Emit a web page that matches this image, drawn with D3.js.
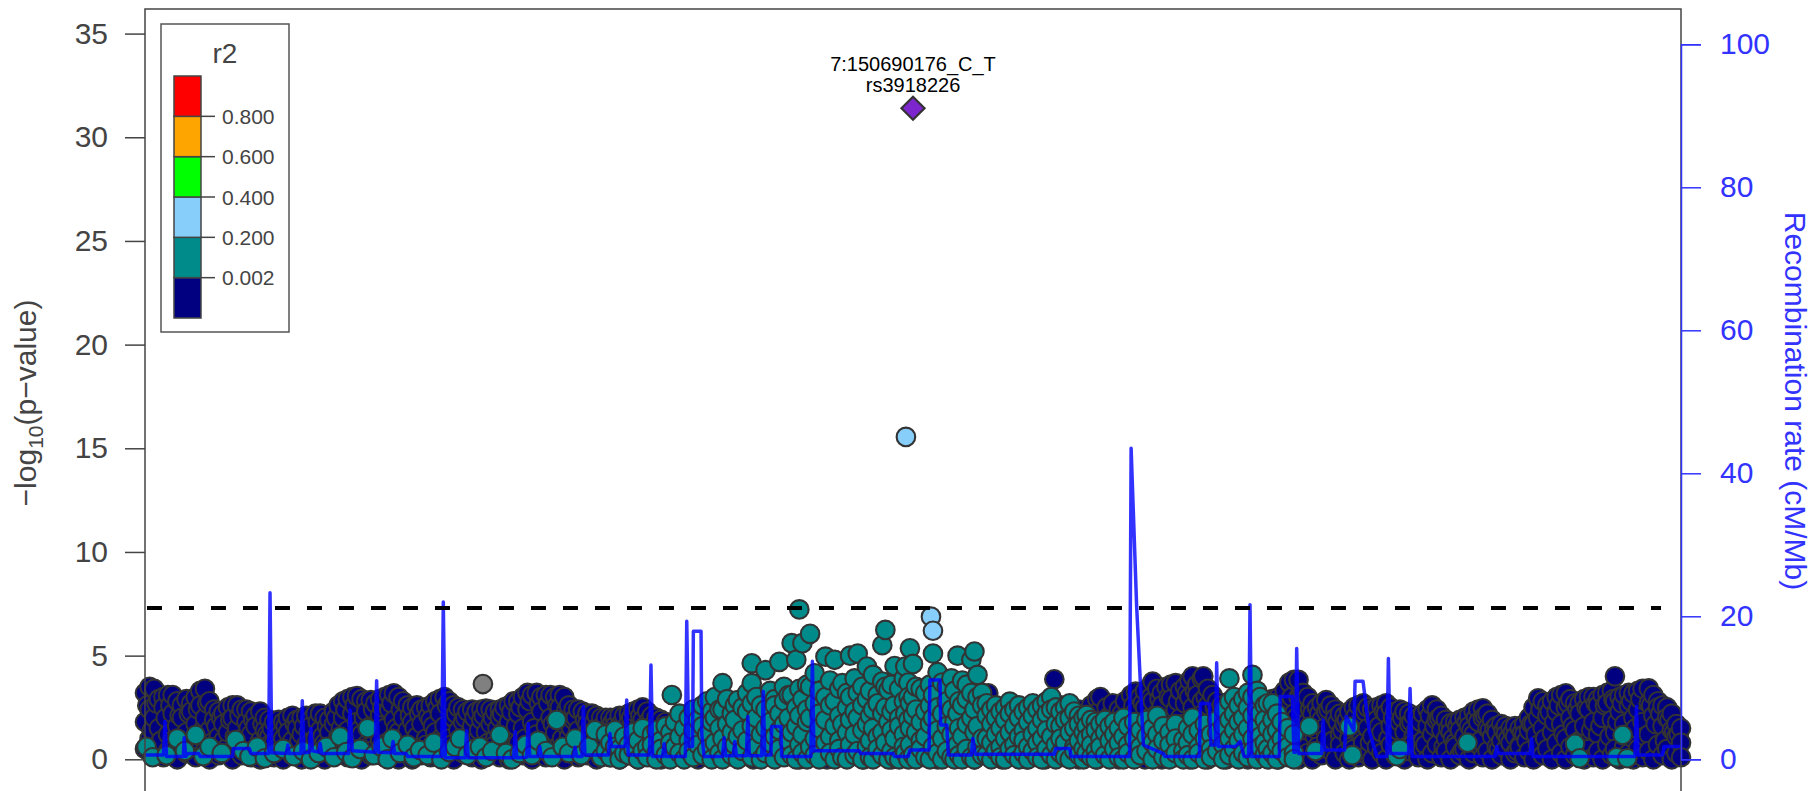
<!DOCTYPE html>
<html>
<head>
<meta charset="utf-8">
<script src="https://cdn.jsdelivr.net/npm/d3@7"></script>
<style>
  body { margin: 0; background: #fff; }
  svg { display: block; font-family: "Liberation Sans", Arial, sans-serif; }
</style>
</head>
<body>
<div class="plot"></div>
<script>
// Region: chr7, positions below are kb from regionStart
var regionStart = 150190176;
var regionKb = [0, 1000];

// Lead SNP
var leadSnp = { kb: 500, logp: 31.4, name: "7:150690176_C_T", rsid: "rs3918226" };

// lowest r2 bin (navy): [kb, -log10 p, -log10 p, ...]
var navyCols = [
  [0,3.2,1.8,0.5],[3,3.5,2.4,1.0],[6,3.4,2.0,0.2],[9,2.9,1.5,0.7],[12,3.0,2.5,0.1],[15,3.1,1.2,0.4],
  [18,3.1,2.2,0.9],[21,2.8,1.6,0.0],[24,2.6,2.0,0.6],[27,2.9,1.3,0.3],[30,2.7,2.3,0.8],[33,3.0,1.7,0.1],
  [36,3.3,2.6,1.1],[39,3.4,2.0,0.4],[42,2.8,1.4,0.0],[45,2.4,1.9,0.7],[48,2.3,1.1,0.2],[51,2.2,1.7,0.9],
  [54,2.5,1.3,0.3],[57,2.6,2.0,0.0],[60,2.6,1.5,0.6],[63,2.4,1.0,0.2],[66,2.4,1.8,0.8],[69,2.3,1.2,0.1],
  [72,2.1,1.6,0.5],[75,2.3,0.9,0.0],[78,2.0,1.4,0.4],[81,1.9,1.1,0.7],[84,1.8,0.8,0.1],[87,1.9,1.5,0.3],
  [90,1.8,1.0,0.0],[93,2.0,1.3,0.6],[96,2.1,0.9,0.2],[99,1.9,1.5,0.5],[102,2.0,1.2,0.0],[105,2.1,0.7,0.4],
  [108,1.9,1.6,0.8],[111,2.2,1.0,0.1],[114,2.2,1.4,0.5],[117,2.0,0.8,0.0],[120,1.9,1.3,0.6],[123,2.3,1.7,0.2],
  [126,2.6,1.1,0.4],[129,2.8,2.0,0.9],[132,2.9,1.4,0.1],[135,3.0,2.2,0.6],[138,3.05,1.8,0.3],[141,2.9,1.2,0.0],
  [144,2.8,2.3,0.7],[147,2.86,1.6,0.2],[150,2.7,1.0,0.5],[153,2.9,2.1,0.9],[156,3.0,1.5,0.1],[159,3.1,2.4,0.4],
  [162,3.18,1.9,0.8],[165,3.0,1.3,0.0],[168,2.8,2.0,0.6],[171,2.6,1.4,0.3],[174,2.5,1.8,0.0],[177,2.6,1.1,0.5],
  [180,2.4,1.7,0.2],[183,2.5,1.0,0.7],[186,2.6,1.9,0.1],[189,2.8,1.3,0.4],[192,2.9,2.2,0.9],[195,3.0,1.6,0.2],
  [198,2.8,1.0,0.5],[201,2.6,2.0,0.0],[204,2.5,1.4,0.6],[207,2.4,1.8,0.3],[210,2.3,1.1,0.8],[213,2.4,1.6,0.1],
  [216,2.3,0.9,0.4],[219,2.4,1.9,0.0],[222,2.45,1.3,0.6],[225,2.4,1.7,0.2],[228,2.3,1.0,0.7],[231,2.4,2.0,0.1],
  [234,2.5,1.4,0.4],[237,2.6,1.8,0.0],[240,2.8,1.2,0.5],[243,2.8,2.2,0.8],[246,3.0,1.5,0.2],[249,3.2,2.4,0.6],
  [252,3.1,1.8,0.0],[255,3.2,1.2,0.4],[258,3.0,2.3,0.9],[261,3.1,1.6,0.1],[264,3.1,2.0,0.5],[267,3.0,1.3,0.2],
  [270,3.1,2.5,0.7],[273,3.0,1.7,0.0],[276,2.6,1.1,0.4],[279,2.4,1.9,0.8],[282,2.4,1.4,0.1],[285,2.3,0.9,0.5],
  [288,2.2,1.7,0.2],[291,2.2,1.2,0.6],[294,2.1,1.5,0.0],[297,2.0,0.8,0.3],[300,2.0,1.4,0.7],[303,2.0,1.1,0.1],
  [306,2.0,1.6,0.4],[309,2.1,0.9,0.0],[312,2.1,1.3,0.6],[315,2.2,1.8,0.2],[318,2.3,1.0,0.5],[321,2.4,1.5,0.0],
  [324,2.5,1.9,0.3],[327,2.3,1.2,0.8],[330,2.1,1.6,0.1],[333,2.0,0.9,0.4],[336,1.9,1.4,0.0],[339,1.8,1.1,0.6],
  [342,1.5,0.6],[348,2.0,0.2],[354,1.2,0.8],[360,1.8,0.0],[366,1.0,0.5],[372,1.6,0.3],[378,2.0,0.9],
  [384,1.3,0.1],[390,1.7,0.6],[396,1.1,0.0],[402,1.5,0.4],[408,2.2,0.8],[414,1.0,0.2],[420,1.8,0.5],
  [426,1.3,0.0],[432,1.6,0.7],[438,1.1,0.3],[444,2.0,0.0],[450,1.4,0.6],[456,1.9,0.2],[462,2.86,1.2,0.5],
  [468,1.6,0.0],[474,2.1,0.8],[480,1.3,0.3],[486,2.3,1.0,0.0],[492,1.7,0.6],[498,2.0,0.2],[504,1.4,0.9],
  [510,2.2,0.4],[516,1.8,0.0],[522,2.4,1.1,0.6],[528,2.0,0.2],[534,2.6,1.5,0.8],[540,2.9,1.2,0.0],
  [546,3.0,1.8,0.4],[549,3.18,2.2,0.7],[552,2.2,1.0,0.3],[555,1.8,0.6],[558,2.4,1.3,0.0],[562,1.5,0.5],
  [566,2.0,0.9,0.2],[570,1.7,0.4],[574,2.3,1.1,0.0],[578,1.6,0.7],[582,2.1,1.0,0.3],[586,2.5,1.4,0.0],
  [590,2.8,1.8,0.6],[592,3.86,2.2,0.2],[596,2.6,1.2,0.8],[600,2.3,1.5,0.1],[604,2.0,0.9,0.5],[608,2.4,1.3,0.0],
  [612,2.2,1.7,0.6],[616,2.6,1.0,0.3],[620,2.9,1.9,0.0],[622,3.0,1.4,0.7],[626,2.5,1.1,0.2],[630,2.7,1.8,0.5],
  [634,2.4,1.2,0.0],[638,2.8,2.0,0.8],[642,3.1,1.5,0.3],[645,3.26,2.3,0.9,0.1],[648,3.0,1.7,0.5],
  [651,3.3,2.5,1.1,0.0],[654,3.5,2.0,0.6],[656,3.75,2.8,1.4,0.2],[659,3.4,2.2,0.8],[662,3.2,2.6,1.2,0.0],
  [665,3.5,1.9,0.4],[668,3.6,2.9,1.5,0.7],[671,3.67,2.4,0.1],[674,3.3,2.0,1.0,0.5],[677,3.5,2.7,0.3],
  [680,3.8,3.0,1.6,0.0],[682,4.0,2.5,0.9],[685,3.6,3.1,1.3,0.4],[688,3.9,2.8,0.1],[689,4.0,2.2,0.7],
  [692,3.4,2.6,1.1,0.0],[695,3.1,1.8,0.5],[698,2.8,2.3,0.2],[701,2.6,1.5,0.8],[704,2.3,1.0,0.0],
  [706,2.06,1.4,0.4],[710,2.5,1.8,0.1],[714,2.7,1.2,0.6],[718,2.9,2.1,0.0],[722,2.4,1.5,0.3],[726,2.8,1.9,0.7],
  [730,2.6,1.3,0.1],[734,2.9,2.0,0.5],[738,3.0,1.6,0.0],[742,3.3,2.4,0.8],[745,3.7,2.8,1.2,0.2],
  [748,3.83,2.2,0.6],[751,3.83,3.0,1.5,0.0],[754,3.2,2.5,0.9],[757,3.0,1.8,0.3],[760,2.7,2.2,0.0],
  [763,2.5,1.4,0.6],[766,2.7,1.9,0.2],[769,2.86,2.3,1.0],[772,2.6,1.6,0.4],[775,2.4,2.0,0.0],[778,2.2,1.2,0.7],
  [781,2.1,1.7,0.3],[784,2.3,1.0,0.0],[787,2.5,1.9,0.5],[790,2.6,1.4,0.1],[793,2.7,2.1,0.8],[796,2.5,1.5,0.2],
  [799,2.4,1.1,0.0],[802,2.5,1.9,0.6],[805,2.6,1.3,0.3],[808,2.7,2.2,0.0],[811,2.5,1.6,0.7],[814,2.3,1.0,0.2],
  [817,2.4,1.8,0.5],[820,2.3,1.3,0.0],[823,2.2,1.7,0.4],[826,2.1,1.1,0.8],[829,2.0,1.5,0.1],[832,2.2,0.9,0.5],
  [835,2.4,1.6,0.0],[838,2.6,1.2,0.3],[841,2.4,1.9,0.7],[844,2.1,1.4,0.1],[847,1.9,1.0,0.4],[850,1.74,1.3,0.0],
  [853,1.8,0.8,0.6],[856,1.9,1.4,0.2],[859,2.0,1.1,0.5],[862,2.1,1.6,0.0],[865,2.3,1.2,0.3],[868,2.4,1.8,0.7],
  [871,2.46,2.0,0.1],[874,2.2,1.5,0.4],[877,1.9,1.1,0.0],[880,1.6,1.3,0.6],[883,1.7,0.9,0.2],[886,1.6,1.2,0.5],
  [889,1.5,0.8,0.0],[892,1.6,1.1,0.3],[895,1.5,0.7,0.6],[898,1.7,1.2,0.1],[901,2.0,1.4,0.4],[904,2.5,1.7,0.0],
  [907,2.94,2.0,0.7],[910,2.8,1.5,0.2],[913,2.6,2.1,0.5],[916,2.8,1.3,0.0],[919,3.0,2.3,0.8],[922,3.1,1.7,0.3],
  [925,3.18,2.5,1.0,0.0],[928,2.9,2.0,0.6],[931,2.7,1.4,0.2],[934,2.7,2.2,0.9],[937,2.9,1.6,0.0],[940,3.0,2.4,0.5],
  [943,3.0,1.8,0.1],[946,2.9,2.6,1.2,0.4],[949,3.1,2.0,0.0],[952,3.2,2.7,0.7],[955,3.3,1.9,0.2],
  [957,4.0,2.8,1.3,0.5],[960,3.0,2.3,0.0],[963,3.1,1.7,0.6],[966,3.2,2.6,0.3],[969,3.18,2.0,1.0,0.0],
  [972,3.3,2.4,0.5],[975,3.4,1.8,0.1],[979,3.42,2.7,1.2,0.4],[982,3.1,2.1,0.0],[985,2.8,2.5,0.7],
  [988,2.6,1.6,0.2],[991,2.5,2.0,0.5],[994,2.2,1.4,0.0],[997,1.7,1.1,0.3],[1000,1.5,0.8,0.1]
];

// more navy SNPs lying between the columns above: [kb, -log10 p]
var navyFill = [
  [1.5,2.6],[4.5,1.4],[7.5,2.7],[10.5,0.9],[13.5,2.0],[16.5,2.6],[19.5,0.5],[22.5,2.1],[25.5,1.0],[28.5,2.2],
  [31.5,0.6],[34.5,2.4],[37.5,1.4],[40.5,2.7],[43.5,0.8],[46.5,1.6],[49.5,2.0],[52.5,0.5],[55.5,1.9],[58.5,1.1],
  [61.5,2.1],[64.5,0.6],[67.5,1.5],[70.5,1.9],[73.5,0.4],[76.5,1.7],[79.5,1.2],[82.5,1.5],[85.5,0.5],[88.5,1.2],
  [91.5,1.6],[94.5,0.4],[97.5,1.7],[100.5,0.9],[103.5,1.6],[106.5,1.3],[109.5,0.3],[112.5,1.8],[115.5,1.1],
  [118.5,1.6],[121.5,0.4],[124.5,2.0],[127.5,1.5],[130.5,2.4],[133.5,0.7],[136.5,2.6],[139.5,1.4],[142.5,2.0],
  [145.5,0.6],[148.5,2.4],[151.5,1.3],[154.5,2.5],[157.5,0.8],[160.5,2.7],[163.5,1.5],[166.5,2.4],[169.5,0.9],
  [172.5,2.1],[175.5,1.5],[178.5,2.2],[181.5,0.5],[184.5,2.1],[187.5,1.6],[190.5,2.5],[193.5,1.1],[196.5,2.6],
  [199.5,0.7],[202.5,2.2],[205.5,1.0],[208.5,2.0],[211.5,0.6],[214.5,2.0],[217.5,1.4],[220.5,2.1],[223.5,0.8],
  [226.5,2.0],[229.5,1.5],[232.5,2.2],[235.5,0.7],[238.5,2.3],[241.5,1.6],[244.5,2.5],[247.5,1.0],[250.5,2.8],
  [253.5,1.5],[256.5,2.7],[259.5,0.8],[262.5,2.7],[265.5,1.7],[268.5,2.6],[271.5,1.0],[274.5,2.4],[277.5,1.5],
  [280.5,2.0],[283.5,0.6],[286.5,1.9],[289.5,1.4],[292.5,1.8],[295.5,0.5],[298.5,1.7],[301.5,1.2],[304.5,1.8],
  [307.5,0.6],[310.5,1.8],[313.5,1.5],[316.5,2.0],[319.5,0.8],[322.5,2.1],[325.5,1.6],[328.5,1.9],[331.5,0.7],
  [334.5,1.7],[337.5,1.2],
  [553.5,1.6],[556.5,2.0],[560,0.9],[564,1.8],[568,1.2],[572,1.9],[576,0.6],[580,1.5],[584,2.0],[588,1.1],
  [594,2.5],[598,1.8],[602,0.8],[606,1.9],[610,1.0],[614,2.0],[618,1.4],[621,2.3],[624,0.9],[628,2.1],[632,1.5],
  [636,2.2],[640,1.0],[643.5,2.6],[646.5,1.4],[649.5,2.7],[652.5,1.8],[655,3.0],[657.5,1.0],[660.5,2.9],
  [663.5,1.7],[666.5,3.0],[669.5,1.3],[672.5,2.8],[675.5,1.7],[678.5,3.2],[681,1.2],[683.5,3.3],[686.5,2.0],
  [690.5,3.0],[693.5,1.4],[696.5,2.5],[699.5,1.1],[702.5,2.0],[705,0.7],[708,1.9],[712,1.1],[716,2.3],[720,0.8],
  [724,2.0],[728,1.4],[732,2.3],[736,1.0],[740,2.6],[743.5,1.6],[746.5,3.0],[749.5,2.0],[752.5,3.1],[755.5,1.4],
  [758.5,2.4],[761.5,1.1],[764.5,2.2],[767.5,1.5],[770.5,2.4],[773.5,0.9],[776.5,1.8],[779.5,1.4],[782.5,1.9],
  [785.5,0.6],[788.5,2.1],[791.5,1.8],[794.5,2.3],[797.5,0.8],[800.5,2.0],[803.5,1.6],[806.5,2.3],[809.5,1.0],
  [812.5,2.0],[815.5,1.4],[818.5,2.0],[821.5,0.6],[824.5,1.8],[827.5,1.4],[830.5,1.8],[833.5,0.7],[836.5,2.1],
  [839.5,1.6],[842.5,2.0],[845.5,0.6],[848.5,1.5],[851.5,1.0],[854.5,1.6],[857.5,0.4],[860.5,1.8],[863.5,1.4],
  [866.5,2.0],[869.5,0.9],[872.5,2.1],[875.5,1.4],[878.5,1.5],[881.5,0.5],[884.5,1.4],[887.5,1.0],[890.5,1.3],
  [893.5,0.4],[896.5,1.3],[899.5,0.9],[902.5,1.7],[905.5,1.2],[908.5,2.4],[911.5,1.0],[914.5,2.3],[917.5,1.8],
  [920.5,2.6],[923.5,1.2],[926.5,2.7],[929.5,1.6],[932.5,2.4],[935.5,0.9],[938.5,2.5],[941.5,1.4],[944.5,2.7],
  [947.5,1.6],[950.5,2.6],[953.5,1.1],[956,2.9],[958.5,1.8],[961.5,2.7],[964.5,1.2],[967.5,2.8],[970.5,1.5],
  [973.5,2.9],[976.5,1.1],[980.5,2.6],[983.5,1.7],[986.5,2.2],[989.5,0.9],[992.5,1.9],[995.5,1.3],[998.5,1.2]
];

// next r2 bin (teal): [kb, -log10 p, ...]
var tealCols = [
  [1,0.6],[5,0.1],[14,0.2],[21,1.0],[26,0.4],[33,1.17],[38,0.15],[42,0.6],[50,0.3],[59,0.93],[64,0.4],
  [68,0.13],[73,0.6],[78,0.05],[84,0.3],[90,0.5],[97,0.15],[103,0.4],[108,0.0],[113,0.3],[118,0.6],
  [123,0.1],[127,1.1],[131,0.35],[135,0.05],[140,0.5],[145,1.5],[149,0.2],[154,0.6],[158,0.0],[161,1.0],
  [166,0.3],[171,0.7],[175,0.1],[179,0.45],[184,0.2],[188,0.8],[193,0.0],[198,0.35],[202,0.6],[205,1.0],
  [210,0.2],[214,0.5],[218,0.6],[222,0.1],[226,0.4],[231,1.17],[235,0.3],[239,0.0],[244,0.3],[248,0.7],
  [252,0.2],[256,0.9],[261,0.4],[265,0.1],[268,1.9],[272,0.6],[276,0.3],[280,1.0],[284,0.2],[289,0.6],
  [293,1.4],[297,0.1],
  [300,1.2,0.4],[303,0.8,0.1],[306,1.4,0.6],[309,0.5,0.0],[312,1.1,0.3],[315,0.7,0.2],[318,1.3,0.5],
  [321,0.9,0.0],[324,1.5,0.4],[327,0.6,0.1],[330,1.2,0.7],[333,1.4,0.3,0.0],[336,0.9,0.5],[339,1.6,0.2],
  [342,1.3,0.8,0.0],[343,3.1],[345,1.8,0.6],[348,2.2,1.1,0.3],[351,1.5,0.0],[354,2.0,0.9,0.4],
  [357,2.4,1.4,0.1],[360,1.9,0.7],[363,2.6,1.6,0.2],[366,2.8,1.2,0.5],[369,2.3,1.8,0.0],
  [371,3.0,2.0,0.8],[374,2.4,1.5,0.3],[376,3.67,2.4,1.0,0.0],[379,2.9,1.7,0.6],[382,2.2,1.3,0.2],
  [384,2.6,1.9,0.7],[386,2.86,1.1,0.0],[389,2.5,1.4,0.4],[392,3.2,2.3,0.9],[395,4.63,3.67,2.7,1.6,0.1],
  [398,3.0,2.0,0.6],[401,2.6,1.2,0.0],[404,4.3,2.4,1.5,0.3],[407,3.3,1.8,0.8],[410,2.9,2.6,1.1,0.0],
  [413,4.7,2.2,1.4,0.5],[416,3.5,2.8,1.7,0.1],[419,3.1,2.0,0.9],[421,5.6,3.1,1.3,0.2],[424,4.8,2.5,1.6,0.0],
  [426,7.23,3.4,2.1,0.7],[428,5.6,2.9,1.2,0.3],[431,3.6,2.4,1.8,0.0],[433,6.05,3.5,2.0,0.6],
  [436,4.15,2.7,1.0,0.2],[439,3.3,2.2,1.5,0.0],[443,4.95,3.0,1.9,0.8],[446,3.8,2.6,1.1,0.3],
  [449,4.8,2.8,1.6,0.0],[452,3.4,2.1,0.9,0.5],[454,3.67,1.7,0.1],[457,3.2,2.5,1.3,0.0],[459,5.0,3.0,1.9,0.7],
  [462,3.9,2.3,1.2,0.2],[464,5.1,3.2,2.0,0.4],[467,3.5,2.6,1.4,0.0],[470,4.47,2.9,1.7,0.6],
  [472,3.3,2.1,0.9,0.1],[474,4.07,2.4,1.5,0.0],[477,3.1,2.7,1.1,0.5],[480,3.75,5.5,2.2,1.3,0.2],
  [482,6.24,3.5,2.5,0.8],[484,3.34,1.8,0.0],[486,3.6,2.3,1.4,0.4],[488,4.5,2.6,1.0,0.1],[491,3.4,2.0,1.6,0.0],
  [494,3.9,2.8,1.2,0.6],[495,4.47,2.2,0.3],[497,3.7,3.0,1.9,0.0],[498,5.35,2.7,1.5,0.7],[500,4.6,3.0,2.1,0.2],
  [502,3.5,2.4,1.3,0.0],[505,3.4,1.8,0.9,0.5],[508,3.2,2.3,1.1,0.1],[511,3.6,2.6,1.7,0.0],[513,5.1,3.1,2.0,0.6],
  [516,4.2,2.5,1.4,0.3],[519,3.7,2.2,1.0,0.0],[522,3.5,2.8,1.6,0.4],[525,3.9,2.4,1.2,0.1],[527,3.3,1.8,0.0],
  [529,5.0,2.2,0.7],[530,2.8,1.5,0.2],[532,3.8,2.6,1.1,0.0],[535,3.6,2.9,1.7,0.5],[538,4.8,3.2,2.0,0.1],
  [540,5.2,2.4,1.3,0.0],[542,4.07,3.0,1.6,0.6],[545,3.2,2.6,1.0,0.2],
  [548,2.7,2.1,1.0,0.2],[551,2.4,1.7,0.8,0.0],[554,2.6,2.0,1.2,0.4],[557,2.3,1.5,0.6,0.1],[560,2.5,1.9,1.0,0.0],
  [563,2.78,2.2,1.3,0.5],[566,2.4,1.6,0.7,0.2],[569,2.6,2.0,1.1,0.0],[572,2.3,1.4,0.9,0.3],[575,2.5,1.8,0.6,0.0],
  [578,2.7,2.1,1.2,0.4],[581,2.4,1.5,0.8,0.1],[584,2.6,1.9,1.0,0.0],[587,2.8,2.2,1.4,0.5],[590,3.0,2.4,1.1,0.2],
  [593,2.5,1.7,0.7,0.0],[596,2.3,1.6,1.0,0.3],[599,2.5,1.9,0.8,0.1],[602,2.7,2.0,1.3,0.0],[605,2.3,1.5,0.6,0.4],
  [608,2.1,1.7,0.9,0.2],[611,2.0,1.3,0.5,0.0],[613,2.14,1.6,1.0,0.3],[616,1.9,1.2,0.7,0.1],[619,1.8,1.4,0.4,0.0],
  [622,1.7,1.0,0.6],[625,1.9,1.3,0.2],[628,1.6,0.9,0.0],[631,1.8,1.2,0.5],[634,1.5,0.8,0.1],[637,2.0,1.1,0.0],
  [640,1.6,0.7,0.3],[644,1.8,1.0,0.0],[648,1.4,0.6,0.2],[652,1.9,1.1,0.4],[656,1.5,0.8,0.0],[659,2.1,1.2,0.5],
  [663,1.6,0.9,0.1],[667,1.3,0.7,0.0],[671,1.7,1.0,0.3],[676,0.93,0.4,0.0],[679,1.5,0.8,0.2],[682,2.0,1.2,0.0],
  [686,1.4,0.6,0.3],[690,1.7,1.0,0.0],[694,1.2,0.5,0.1],[698,1.9,1.3,0.4],[702,2.4,1.6,0.7,0.0],
  [706,3.9,2.8,1.9,1.0,0.2],[709,3.0,2.2,1.4,0.5],[712,2.6,1.8,0.9,0.0],[715,2.9,2.0,1.2,0.3],
  [718,3.2,2.5,1.5,0.1],[721,4.07,3.0,2.1,1.0,0.4],[724,3.3,2.4,1.6,0.0],[726,3.0,2.2,1.1,0.6],
  [729,2.6,1.9,0.8,0.2],[731,2.7,1.5,0.5,0.0],[734,2.7,1.9,1.2,0.3],[737,2.2,1.4,0.7,0.0],[740,1.8,1.0,0.4],
  [744,1.5,0.6,0.1],[748,1.2,0.3,0.0],
  [758,1.58],[762,0.4],[784,1.58],[786,0.2],[815,0.15],[817,0.5],[861,0.8],[931,0.75],[934,0.05],
  [958,0.1],[962,1.17],[965,0.05]
];

// light blue bin and missing r2 (grey): [kb, -log10 p]
var lightBlueSnps = [[495.4,15.55],[511.7,6.88],[513,6.2]];
var greySnps = [[220,3.63]];

// Recombination rate (cM/Mb): [kb, rate]
var recombRate = [
  [0,0.6],[12,0.6],[13,5.3],[14,0.4],[25,0.4],[25.5,3.0],[26.5,0.4],[28,0.8],[35,0.8],[36,0.4],[57,0.4],
  [57.5,1.5],[68,1.5],[69,0.8],[80.5,0.8],[81.4,23.3],[82.5,0.9],[92,0.8],[93,2.0],[94,0.8],[101.5,0.8],
  [102.4,8.2],[103.5,0.9],[107,1.0],[108,4.3],[109,1.2],[113,1.0],[114,2.2],[115,0.8],[132.5,0.8],
  [133.5,6.9],[135,1.2],[149.8,1.0],[150.8,11.0],[152,1.0],[160.5,0.9],[161.5,2.5],[162.5,0.8],[170,0.8],
  [171,0.4],[193.2,0.4],[194.2,22.0],[195.5,0.2],[208.4,0.2],[209.4,4.0],[210.4,0.2],[240,0.2],[241,3.9],
  [242,0.2],[248.5,0.3],[249.5,5.0],[250.5,0.4],[256,0.4],[257,1.8],[258,0.4],[279,0.4],[280,1.7],[281,0.4],
  [284.5,0.4],[285.4,7.4],[286.4,0.6],[301.7,0.6],[302.7,3.6],[303.7,1.8],[312.6,1.8],[313.6,8.3],
  [314.6,0.6],[328.4,0.6],[329.4,13.2],[330.5,0.4],[337,0.4],[338,2.2],[339,0.4],[351.8,0.4],[352.7,19.3],
  [354,1.8],[356.5,1.8],[357,17.9],[362,17.9],[362.5,3.5],[364,0.4],[376,0.4],[377,3.0],[378,0.5],[383,0.5],
  [384,2.5],[385,0.5],[391.5,0.5],[392.5,6.0],[393.5,0.5],[401.5,0.5],[402.5,9.5],[403.5,0.6],[407.5,0.6],
  [408,4.6],[414,4.6],[414.5,0.4],[433.5,0.4],[434.5,13.7],[435.5,1.2],[465,1.2],[466,0.8],[487,0.8],
  [488,0.4],[497,0.4],[498,1.3],[510.5,1.3],[511,11.1],[517.6,11.1],[518,4.8],[522,4.8],[523,0.6],[538,0.6],
  [539,2.9],[540.5,0.7],[592,0.7],[593,1.5],[602,1.5],[603,0.4],[641,0.4],[642,43.5],[645.6,21.4],[650,2.0],
  [663,0.8],[664,0.4],[686.5,0.4],[687,7.8],[693,7.8],[694,2.0],[696.8,2.0],[697.7,13.5],[698.8,1.8],
  [710,1.8],[713,2.5],[715.5,0.4],[718.5,0.4],[719.4,21.6],[720.5,0.4],[738.5,0.4],[739,8.8],[747,8.8],
  [748,1.0],[749,1.0],[749.8,15.5],[751,0.8],[766,0.8],[767,5.5],[768,1.3],[781,1.3],[782,6.0],[787,4.0],
  [787.8,10.9],[793,10.9],[797,4.0],[802,0.4],[808.5,0.4],[809.5,14.1],[810.7,0.8],[822.6,0.8],[823.6,9.9],
  [825,0.4],[879,0.4],[880,1.8],[881,0.8],[901.7,0.8],[902.7,2.9],[903.7,0.4],[970,0.4],[971,7.4],[972,0.6],
  [988,0.6],[989,1.8],[1000,1.8]
];

var yTicks = [0, 5, 10, 15, 20, 25, 30, 35];
var recTicks = [0, 20, 40, 60, 80, 100];
var gwasLine = 7.3;

// Legend bins, bottom to top
var legendColors = ["#000080", "#008B8B", "#87CEFA", "#00FF00", "#FFA500", "#FF0000"];
var legendLabels = ["0.002", "0.200", "0.400", "0.600", "0.800"];

function drawLocus() {
    var width = 1816, height = 791;
    var left = 145, right = 1681, top = 9;
    var axisColor = "#444";
    var recColor = "#3333ff";
    var ptStroke = "#333";

    var svg = d3.select('.plot').append('svg')
        .attr('width', width)
        .attr('height', height);

    // Scales
    var x = d3.scaleLinear().domain(regionKb).range([left, right]);
    var y = d3.scaleLinear().domain([0, 35]).range([759.3, 33.6]);
    var yRec = d3.scaleLinear().domain([0, 100]).range([759.3, 44.3]);

    // flatten column arrays into points
    function expand(cols) {
        var out = [];
        cols.forEach(function(c) {
            for (var i = 1; i < c.length; i++) out.push({kb: c[0], p: c[i]});
        });
        return out;
    }

    var plot = svg.append('g');

    function drawPoints(data, fill) {
        plot.append('g').selectAll('circle')
            .data(data)
            .enter().append('circle')
            .attr('cx', function(d) { return x(d.kb); })
            .attr('cy', function(d) { return y(d.p); })
            .attr('r', 9.3)
            .attr('fill', fill)
            .attr('stroke', ptStroke)
            .attr('stroke-width', 2.1);
    }

    // navy SNPs drawn in position order
    var navy = expand(navyCols).concat(expand(navyFill));
    navy.sort(function(a, b) { return a.kb - b.kb; });

    drawPoints(navy, "#000080");
    drawPoints(expand(greySnps), "#808080");
    drawPoints(expand(tealCols), "#008B8B");
    drawPoints(expand(lightBlueSnps), "#87CEFA");

    // Recombination line
    var line = d3.line()
        .x(function(d) { return x(d[0]); })
        .y(function(d) { return yRec(d[1]); });
    plot.append('path')
        .datum(recombRate)
        .attr('d', line)
        .attr('fill', 'none')
        .attr('stroke', 'blue')
        .attr('stroke-opacity', 0.8)
        .attr('stroke-width', 3.5)
        .attr('stroke-linejoin', 'round');

    // Genome-wide significance
    plot.append('line')
        .attr('x1', left + 2).attr('x2', right - 20)
        .attr('y1', y(gwasLine)).attr('y2', y(gwasLine))
        .attr('stroke', '#000')
        .attr('stroke-width', 4)
        .attr('stroke-dasharray', '15,17');

    // Lead SNP diamond + labels
    var lx = x(leadSnp.kb), ly = y(leadSnp.logp);
    plot.append('path')
        .attr('d', d3.symbol().type(d3.symbolDiamond2).size(340)())
        .attr('transform', 'translate(' + lx + ',' + ly + ')')
        .attr('fill', '#7D26CD')
        .attr('stroke', ptStroke)
        .attr('stroke-width', 2.2);
    svg.append('text')
        .attr('x', lx).attr('y', ly - 37)
        .attr('text-anchor', 'middle')
        .attr('font-size', 20)
        .text(leadSnp.name);
    svg.append('text')
        .attr('x', lx).attr('y', ly - 16)
        .attr('text-anchor', 'middle')
        .attr('font-size', 20)
        .text(leadSnp.rsid);

    // Frame
    svg.append('rect')
        .attr('x', left).attr('y', top)
        .attr('width', right - left).attr('height', 820)
        .attr('fill', 'none')
        .attr('stroke', axisColor)
        .attr('stroke-width', 1.5);

    // Left axis
    var yAxis = svg.append('g').attr('transform', 'translate(' + left + ',0)')
        .call(d3.axisLeft(y).tickValues(yTicks).tickSize(20).tickPadding(17));
    yAxis.select('.domain').remove();
    yAxis.selectAll('line').attr('stroke', axisColor).attr('stroke-width', 1.5);
    yAxis.selectAll('text').attr('fill', axisColor).attr('font-size', 30)
        .attr('font-family', '"Liberation Sans", Arial, sans-serif');

    var yLab = svg.append('text')
        .attr('transform', 'translate(36,403) rotate(-90)')
        .attr('text-anchor', 'middle')
        .attr('fill', axisColor)
        .attr('font-size', 30);
    yLab.append('tspan').text('\u2212log');
    yLab.append('tspan').attr('font-size', 21).attr('dy', 7).text('10');
    yLab.append('tspan').attr('dy', -7).text('(p\u2212value)');

    // Right axis
    var rAxis = svg.append('g').attr('transform', 'translate(' + right + ',0)')
        .call(d3.axisRight(yRec).tickValues(recTicks).tickSize(20).tickPadding(19));
    rAxis.select('.domain').attr('stroke', recColor).attr('stroke-width', 1.5);
    rAxis.selectAll('line').attr('stroke', recColor).attr('stroke-width', 1.5);
    rAxis.selectAll('text').attr('fill', recColor).attr('font-size', 30)
        .attr('font-family', '"Liberation Sans", Arial, sans-serif');

    svg.append('text')
        .attr('transform', 'translate(1785,401) rotate(90)')
        .attr('text-anchor', 'middle')
        .attr('fill', recColor)
        .attr('font-size', 30)
        .text('Recombination rate (cM/Mb)');

    // Legend
    var lg = svg.append('g');
    lg.append('rect')
        .attr('x', 161).attr('y', 24).attr('width', 128).attr('height', 308)
        .attr('fill', '#fff').attr('stroke', '#555').attr('stroke-width', 1.5);
    lg.append('text')
        .attr('x', 225).attr('y', 63)
        .attr('text-anchor', 'middle')
        .attr('fill', axisColor)
        .attr('font-size', 28)
        .text('r2');
    var barTop = 76, barH = 242 / 6;
    var barY = d3.scaleLinear().domain([0, 6]).range([barTop + 242, barTop]);
    lg.selectAll('rect.bin')
        .data(legendColors)
        .enter().append('rect')
        .attr('class', 'bin')
        .attr('x', 174).attr('width', 27)
        .attr('y', function(d, i) { return barY(i + 1); })
        .attr('height', barH)
        .attr('fill', function(d) { return d; })
        .attr('stroke', '#444').attr('stroke-width', 1.5);
    lg.selectAll('line.tk')
        .data(legendLabels)
        .enter().append('line')
        .attr('x1', 201).attr('x2', 215)
        .attr('y1', function(d, i) { return barY(i + 1); })
        .attr('y2', function(d, i) { return barY(i + 1); })
        .attr('stroke', '#444').attr('stroke-width', 1.5);
    lg.selectAll('text.tk')
        .data(legendLabels)
        .enter().append('text')
        .attr('x', 222)
        .attr('y', function(d, i) { return barY(i + 1) + 7.5; })
        .attr('fill', axisColor)
        .attr('font-size', 21)
        .text(function(d) { return d; });
}

drawLocus();
</script>
</body>
</html>
